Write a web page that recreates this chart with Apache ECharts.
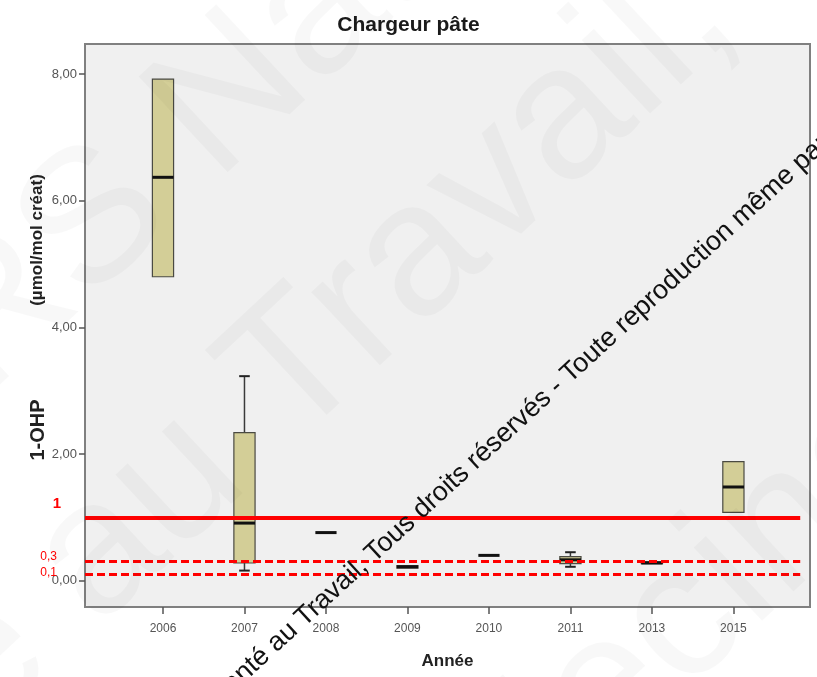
<!DOCTYPE html>
<html>
<head>
<meta charset="utf-8">
<script src="https://cdn.jsdelivr.net/npm/echarts@6/dist/echarts.min.js"></script>
<style>
html,body{margin:0;padding:0;background:#fff;}
#chart{width:817px;height:677px;}
</style>
</head>
<body>
<div id="chart"></div>
<script>
// ---- data ----
const years = ['2006', '2007', '2008', '2009', '2010', '2011', '2013', '2015'];
const whiskerLow  = [4.80, 0.16, 0.76, 0.20, 0.40, 0.22, 0.27, 1.08];
const quartile1   = [4.80, 0.28, 0.76, 0.20, 0.40, 0.27, 0.27, 1.08];
const medians     = [6.37, 0.91, 0.76, 0.22, 0.40, 0.33, 0.28, 1.48];
const quartile3   = [7.92, 2.34, 0.76, 0.24, 0.40, 0.38, 0.30, 1.88];
const whiskerHigh = [7.92, 3.23, 0.76, 0.24, 0.40, 0.45, 0.30, 1.88];
const yTicks = [0, 2, 4, 6, 8];
const refValues = [1, 0.3, 0.1];
const refLabels = ['1', '0,3', '0,1'];
const titleText = 'Chargeur pâte';
const xName = 'Année';
const yNameTop = '(µmol/mol créat)';
const yNameBottom = '1-OHP';
const copyrightText = 'Santé au Travail, Tous droits réservés - Toute reproduction même partielle interdite';

const X_MIN = -0.957, X_MAX = 7.94, Y_MIN = -0.415, Y_MAX = 8.475;
const FONT = '"Liberation Sans", Arial, sans-serif';

const boxData = years.map((y, i) => [i, whiskerLow[i], quartile1[i], medians[i], quartile3[i], whiskerHigh[i]]);

function renderBox(params, api) {
  const i = api.value(0);
  const lo = api.coord([i, api.value(1)]);
  const b1 = api.coord([i, api.value(2)]);
  const md = api.coord([i, api.value(3)]);
  const b3 = api.coord([i, api.value(4)]);
  const hi = api.coord([i, api.value(5)]);
  const band = api.size([1, 0])[0];
  const hw = band * 0.13, cw = band * 0.065;
  const x = md[0];
  const wStyle = { stroke: '#3a3a3a', lineWidth: 1.5 };
  const children = [];
  if (b3[1] - hi[1] > 0.5) {
    children.push({ type: 'line', shape: { x1: x, y1: b3[1], x2: x, y2: hi[1] }, style: wStyle });
    children.push({ type: 'line', shape: { x1: x - cw, y1: hi[1], x2: x + cw, y2: hi[1] }, style: { stroke: '#222', lineWidth: 2 } });
  }
  if (lo[1] - b1[1] > 0.5) {
    children.push({ type: 'line', shape: { x1: x, y1: b1[1], x2: x, y2: lo[1] }, style: wStyle });
    children.push({ type: 'line', shape: { x1: x - cw, y1: lo[1], x2: x + cw, y2: lo[1] }, style: { stroke: '#222', lineWidth: 2 } });
  }
  if (b1[1] - b3[1] > 0.5) {
    children.push({ type: 'rect', shape: { x: x - hw, y: b3[1], width: 2 * hw, height: b1[1] - b3[1] },
      style: { fill: '#d3ce97', stroke: '#4a4a42', lineWidth: 1.2 } });
  }
  children.push({ type: 'line', shape: { x1: x - hw, y1: md[1], x2: x + hw, y2: md[1] }, style: { stroke: '#111', lineWidth: 3 } });
  return { type: 'group', children };
}

const refLineData = refValues.map((v, k) => [
  { coord: [X_MIN, v], lineStyle: { color: '#ff0000', width: k === 0 ? 4 : 3, type: k === 0 ? 'solid' : [8, 4] } },
  { coord: [7.82, v] }
]);

const chart = echarts.init(document.getElementById('chart'), null, { renderer: 'canvas' });
const option = {
  backgroundColor: '#ffffff',
  animation: false,
  textStyle: { fontFamily: FONT },
  title: {
    text: titleText, left: 'center', top: 10,
    textStyle: { fontSize: 21, fontWeight: 'bold', color: '#1a1a1a', fontFamily: FONT }
  },
  grid: {
    left: 85, right: 7, top: 44, bottom: 70,
    show: true, backgroundColor: '#f0f0f0', borderColor: '#808080', borderWidth: 2
  },
  xAxis: {
    type: 'value', min: X_MIN, max: X_MAX,
    name: xName, nameLocation: 'middle', nameGap: 46,
    nameTextStyle: { fontSize: 17, fontWeight: 'bold', color: '#222', fontFamily: FONT },
    axisLine: { show: false, onZero: false },
    splitLine: { show: false },
    axisTick: { show: true, length: 7, customValues: years.map((y, i) => i), lineStyle: { color: '#555', width: 1.5 } },
    axisLabel: { customValues: years.map((y, i) => i), formatter: v => years[Math.round(v)] || '', margin: 16, fontSize: 12, color: '#555', fontFamily: FONT }
  },
  yAxis: {
    type: 'value', min: Y_MIN, max: Y_MAX,
    axisLine: { show: false, onZero: false },
    splitLine: { show: false },
    axisTick: { show: true, length: 6, customValues: yTicks, lineStyle: { color: '#555', width: 1.5 } },
    axisLabel: { customValues: yTicks, formatter: v => v.toFixed(2).replace('.', ','), margin: 8, fontSize: 13, color: '#555', fontFamily: FONT }
  },
  series: [{
    type: 'custom',
    renderItem: renderBox,
    data: boxData,
    encode: { x: 0, y: [1, 2, 3, 4, 5] },
    z: 3,
    markLine: { symbol: 'none', silent: true, label: { show: false }, data: refLineData, z: 5 }
  }]
};
chart.setOption(option);

// annotations placed from the chart's own scale
const refPx = refValues.map(v => chart.convertToPixel({ gridIndex: 0 }, [0, v])[1]);
const ang = 42.5 * Math.PI / 180;
const wm = 'rgba(0,0,0,0.028)';
chart.setOption({
  graphic: [
    // faint large watermark
    { type: 'text', x: -340, y: 965, rotation: 43 * Math.PI / 180, z: 10, silent: true,
      style: { text: 'Santé au Travail,', fontSize: 190, fontFamily: FONT, fill: wm, verticalAlign: 'middle' } },
    { type: 'text', x: 300, y: 980, rotation: 43 * Math.PI / 180, z: 10, silent: true,
      style: { text: 'Médecine', fontSize: 190, fontFamily: FONT, fill: wm, verticalAlign: 'middle' } },
    { type: 'text', x: -190, y: 490, rotation: 43 * Math.PI / 180, z: 10, silent: true,
      style: { text: 'INRS National', fontSize: 190, fontFamily: FONT, fill: wm, verticalAlign: 'middle' } },
    // axis titles
    { type: 'text', x: 37, y: 240, rotation: Math.PI / 2, z: 20,
      style: { text: yNameTop, fontSize: 17, fontWeight: 'bold', fontFamily: FONT, fill: '#222', align: 'center', verticalAlign: 'middle' } },
    { type: 'text', x: 38, y: 430, rotation: Math.PI / 2, z: 20,
      style: { text: yNameBottom, fontSize: 20, fontWeight: 'bold', fontFamily: FONT, fill: '#222', align: 'center', verticalAlign: 'middle' } },
    // reference labels
    { type: 'text', x: 61, y: refPx[0] - 14, z: 20,
      style: { text: refLabels[0], fontSize: 15, fontWeight: 'bold', fontFamily: FONT, fill: '#ff0000', align: 'right', verticalAlign: 'middle' } },
    { type: 'text', x: 57, y: refPx[1] - 5, z: 20,
      style: { text: refLabels[1], fontSize: 12, fontFamily: FONT, fill: '#ff0000', align: 'right', verticalAlign: 'middle' } },
    { type: 'text', x: 57, y: refPx[2] - 2, z: 20,
      style: { text: refLabels[2], fontSize: 12, fontFamily: FONT, fill: '#ff0000', align: 'right', verticalAlign: 'middle' } },
    // copyright overlay
    { type: 'text', x: 214, y: 700, rotation: ang, z: 30, silent: true,
      style: { text: copyrightText, fontSize: 27, fontFamily: FONT, fill: '#111', align: 'left', verticalAlign: 'middle' } }
  ]
});
</script>
</body>
</html>
